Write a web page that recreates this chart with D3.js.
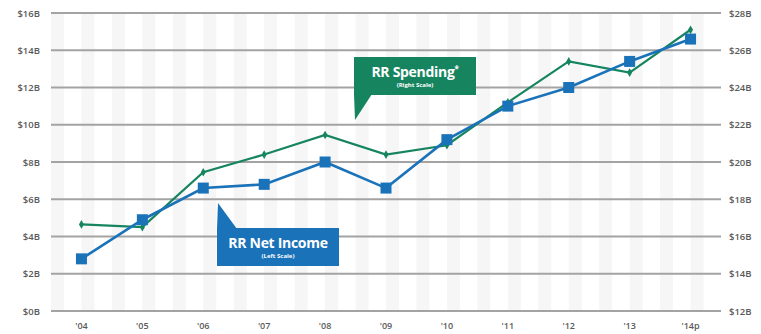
<!DOCTYPE html>
<html>
<head>
<meta charset="utf-8">
<script src="https://cdn.jsdelivr.net/npm/d3@7"></script>
<style>
  html, body { margin: 0; padding: 0; background: #fff; }
  svg { display: block; }
  text { font-family: "Open Sans", "DejaVu Sans", sans-serif; }
</style>
</head>
<body>
<div id="chart"></div>
<script>
// Railroad net income vs. spending, 2004–2014 (projected)
const years = ["'04", "'05", "'06", "'07", "'08", "'09", "'10", "'11", "'12", "'13", "'14p"];
const netIncome = [2.8, 4.9, 6.6, 6.8, 8.0, 6.6, 9.2, 11.0, 12.0, 13.4, 14.6];      // $B, left scale
const spending = [16.65, 16.5, 19.45, 20.4, 21.45, 20.4, 20.9, 23.2, 25.4, 24.8, 27.1]; // $B, right scale
const leftTicks = [0, 2, 4, 6, 8, 10, 12, 14, 16];
const rightTicks = [12, 14, 16, 18, 20, 22, 24, 26, 28];

const W = 761, H = 334;
const plotL = 51, plotR = 721, plotT = 13, plotB = 311;
const blue = "#1a72b9", green = "#16855f";

const svg = d3.select("#chart").append("svg").attr("width", W).attr("height", H);

const x = d3.scaleBand().domain(years).range([plotL, plotR]);
const yL = d3.scaleLinear().domain([0, 16]).range([plotB, plotT]);
const yR = d3.scaleLinear().domain([12, 28]).range([plotB, plotT]);
const cx = d => x(d) + x.bandwidth() / 2;

// faint vertical banding behind the plot
const stripeStarts = d3.range(plotL, plotR - 6, x.bandwidth() / 2);
svg.append("g").selectAll("rect").data(stripeStarts).join("rect")
  .attr("x", d => d).attr("y", plotT).attr("width", 13).attr("height", plotB - plotT)
  .attr("fill", "#f6f6f6");

// horizontal gridlines
svg.append("g").selectAll("line").data(leftTicks).join("line")
  .attr("x1", plotL).attr("x2", plotR)
  .attr("y1", d => yL(d)).attr("y2", d => yL(d))
  .attr("stroke", "#a3a3a3").attr("stroke-width", 2);

// left axis labels
svg.append("g").selectAll("text").data(leftTicks).join("text")
  .attr("x", 40).attr("y", d => yL(d) + 3.5)
  .attr("text-anchor", "end").attr("font-size", 9.5).attr("font-weight", 600)
  .attr("fill", "#5a5a5a").text(d => `$${d}B`);

// right axis labels
svg.append("g").selectAll("text").data(rightTicks).join("text")
  .attr("x", 729).attr("y", d => yR(d) + 3.5)
  .attr("text-anchor", "start").attr("font-size", 9.5).attr("font-weight", 600)
  .attr("fill", "#5a5a5a").text(d => `$${d}B`);

// year labels
svg.append("g").selectAll("text").data(years).join("text")
  .attr("x", d => cx(d)).attr("y", 329)
  .attr("text-anchor", "middle").attr("font-size", 9).attr("font-weight", 600)
  .attr("fill", "#5a5a5a").text(d => d);

// spending line (right scale)
svg.append("path").datum(spending)
  .attr("fill", "none").attr("stroke", green).attr("stroke-width", 2.2)
  .attr("d", d3.line().x((d, i) => cx(years[i])).y(d => yR(d)));
svg.append("g").selectAll("path").data(spending).join("path")
  .attr("d", d3.symbol(d3.symbolDiamond, 22))
  .attr("transform", (d, i) => `translate(${cx(years[i])},${yR(d)})`)
  .attr("fill", green);

// net income line (left scale)
svg.append("path").datum(netIncome)
  .attr("fill", "none").attr("stroke", blue).attr("stroke-width", 2.6)
  .attr("d", d3.line().x((d, i) => cx(years[i])).y(d => yL(d)));
svg.append("g").selectAll("rect").data(netIncome).join("rect")
  .attr("x", (d, i) => cx(years[i]) - 5.5).attr("y", d => yL(d) - 5.5)
  .attr("width", 11).attr("height", 11).attr("fill", blue);

// callout boxes
function callout(bx, by, bw, bh, pointer, color, title, sup, sub) {
  const g = svg.append("g");
  g.append("path").attr("d", pointer).attr("fill", color);
  g.append("rect").attr("x", bx).attr("y", by).attr("width", bw).attr("height", bh).attr("fill", color);
  const t = g.append("text").attr("x", bx + bw / 2).attr("y", by + 20)
    .attr("text-anchor", "middle").attr("font-size", 14).attr("font-weight", 700)
    .attr("fill", "#fff").attr("letter-spacing", -0.3).text(title);
  if (sup) t.append("tspan").attr("font-size", 8).attr("dy", -5).text(sup);
  g.append("text").attr("x", bx + bw / 2).attr("y", by + 30)
    .attr("text-anchor", "middle").attr("font-size", 6).attr("font-weight", 700)
    .attr("fill", "#fff").text(sub);
}
callout(354, 57, 122, 38, "M354,94 L372,94 L355,120 Z", green, "RR Spending", "*", "(Right Scale)");
callout(217, 228, 122, 38, "M217,229 L237,229 L218,203 Z", blue, "RR Net Income", "", "(Left Scale)");
</script>
</body>
</html>
